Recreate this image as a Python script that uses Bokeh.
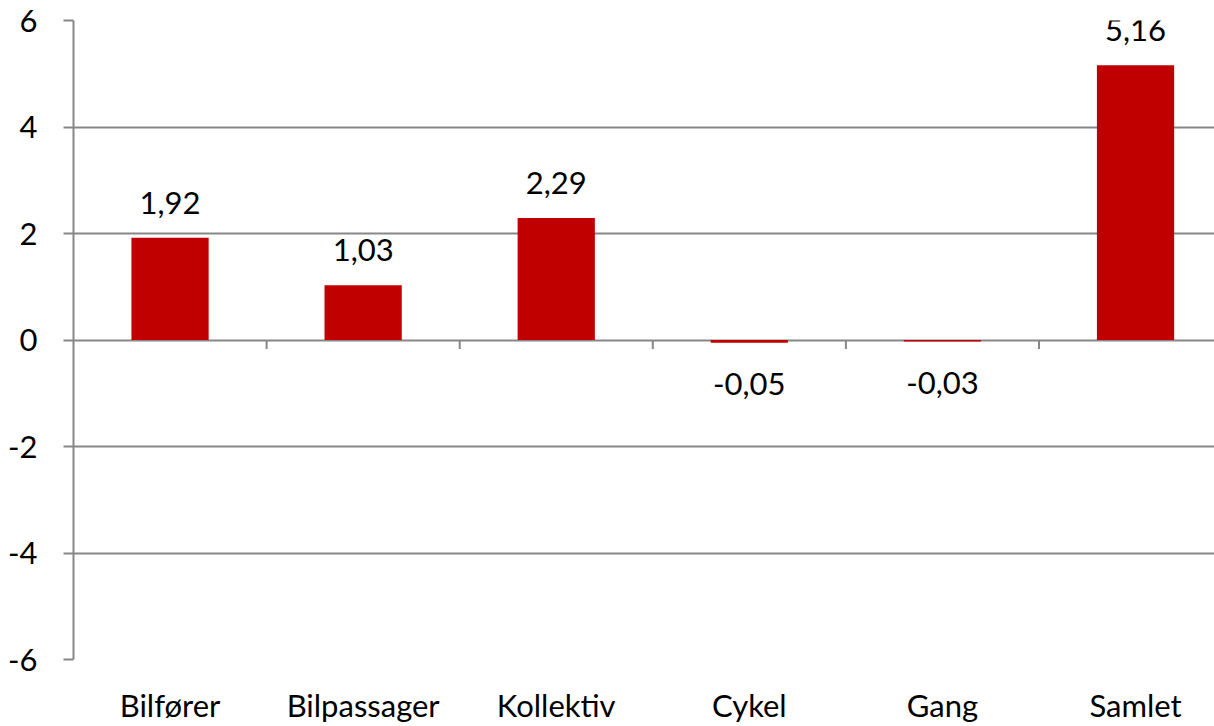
from bokeh.plotting import figure
from bokeh.models import Range1d, FixedTicker, ColumnDataSource
from bokeh.core.properties import value
from bokeh.embed import file_html
from bokeh.resources import INLINE

categories = ["Bilfører", "Bilpassager", "Kollektiv", "Cykel", "Gang", "Samlet"]
values = [1.92, 1.03, 2.29, -0.05, -0.03, 5.16]
y_ticks = [-6, -4, -2, 0, 2, 4, 6]
y_tick_labels = ["-6", "-4", "-2", "0", "2", "4", "6"]

FONT = "Lato"
FS = "31px"
GRID = "#878787"
BAR = "#C00000"

xs = list(range(len(categories)))
labels = [f"{v:.2f}".replace(".", ",") for v in values]
offsets = [-35 if v >= 0 else 41 for v in values]
src = ColumnDataSource(dict(x=xs, top=values, label=labels, yoff=offsets))

p = figure(width=1214, height=726, output_backend="svg", toolbar_location=None,
           x_range=Range1d(-0.5, 5.409), y_range=Range1d(-6, 6),
           min_border_left=73, min_border_right=0, min_border_top=20,
           min_border_bottom=67, outline_line_color=None)

p.vbar(x="x", top="top", bottom=0, width=0.4, source=src, fill_color=BAR, line_color=None)

# boundary tick marks along the zero line
bounds = [i + 0.5 for i in xs[:-1]]
p.segment(x0=bounds, x1=bounds, y0=[0] * len(bounds), y1=[-0.17] * len(bounds),
          line_color=GRID, line_width=2)

p.text(x="x", y="top", text="label", source=src, y_offset="yoff",
       text_align="center", text_baseline="alphabetic",
       text_font=value(FONT), text_font_size=FS, text_color="black")

p.xgrid.visible = False
p.ygrid.ticker = FixedTicker(ticks=y_ticks)
p.ygrid.grid_line_color = GRID
p.ygrid.grid_line_width = 2

ya = p.yaxis[0]
ya.ticker = FixedTicker(ticks=y_ticks)
ya.major_label_overrides = {t: s for t, s in zip(y_ticks, y_tick_labels)}
ya.axis_line_color = GRID
ya.axis_line_width = 2
ya.major_tick_line_color = GRID
ya.major_tick_line_width = 2
ya.major_tick_out = 10
ya.major_tick_in = 0
ya.minor_tick_line_color = None
ya.major_label_standoff = 26
ya.major_label_text_font = FONT
ya.major_label_text_font_size = FS
ya.major_label_text_color = "black"

xa = p.xaxis[0]
xa.ticker = FixedTicker(ticks=xs)
xa.major_label_overrides = {i: c for i, c in zip(xs, categories)}
xa.axis_line_color = None
xa.major_tick_line_color = None
xa.minor_tick_line_color = None
xa.major_label_standoff = 20
xa.major_label_text_font = FONT
xa.major_label_text_font_size = FS
xa.major_label_text_color = "black"

open("out.html", "w").write(file_html(p, INLINE))
